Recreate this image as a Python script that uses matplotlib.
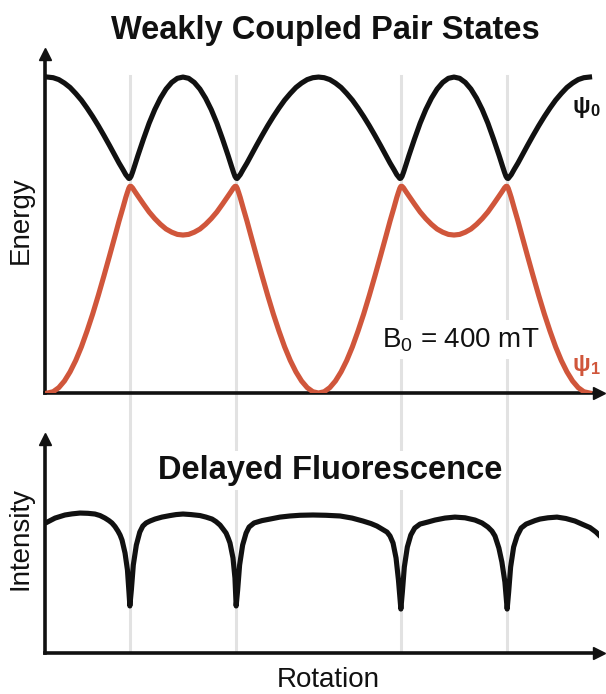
import matplotlib
matplotlib.use("Agg")
import matplotlib.pyplot as plt

plt.rcParams['font.family'] = ['Liberation Sans', 'DejaVu Sans']
plt.rcParams['mathtext.fontset'] = 'custom'
plt.rcParams['mathtext.rm'] = 'Liberation Sans'
plt.rcParams['mathtext.bf'] = 'Liberation Sans:bold'
plt.rcParams['mathtext.it'] = 'Liberation Sans:italic'

# rotation angle (deg) for the pair-state energies
angle = [0, 3.75, 7.5, 11.25, 15, 18.75, 22.5, 26.25, 30, 33.75, 37.5, 41.25,
         45, 47.5, 50, 52, 53, 54, 54.7, 55.5, 56.5, 58, 60, 63.75, 67.5,
         71.25, 75, 78.75, 82.5, 86.25, 90,
         93.75, 97.5, 101.25, 105, 108.75, 112.5, 116.25, 120, 122, 123.5,
         124.5, 125.3, 126, 127, 128, 130, 132.5, 135, 138.75, 142.5, 146.25,
         150, 153.75, 157.5, 161.25, 165, 168.75, 172.5, 176.25, 180,
         183.75, 187.5, 191.25, 195, 198.75, 202.5, 206.25, 210, 213.75, 217.5,
         221.25, 225, 227.5, 230, 232, 233, 234, 234.7, 235.5, 236.5, 238, 240,
         243.75, 247.5, 251.25, 255, 258.75, 262.5, 266.25, 270,
         273.75, 277.5, 281.25, 285, 288.75, 292.5, 296.25, 300, 302, 303.5,
         304.5, 305.3, 306, 307, 308, 310, 312.5, 315, 318.75, 322.5, 326.25,
         330, 333.75, 337.5, 341.25, 345, 348.75, 352.5, 356.25, 360]
psi0 = [1.0, 0.998, 0.992, 0.981, 0.967, 0.948, 0.927, 0.902, 0.875, 0.846,
        0.815, 0.783, 0.75, 0.728, 0.708, 0.691, 0.685, 0.679, 0.680, 0.686,
        0.699, 0.721, 0.751, 0.804, 0.854, 0.897, 0.933, 0.962, 0.983, 0.996,
        1.0,
        0.996, 0.983, 0.962, 0.933, 0.897, 0.854, 0.804, 0.751, 0.721, 0.699,
        0.686, 0.680, 0.679, 0.685, 0.691, 0.708, 0.728, 0.75, 0.783, 0.815,
        0.846, 0.875, 0.902, 0.927, 0.948, 0.967, 0.981, 0.992, 0.998, 1.0,
        0.998, 0.992, 0.981, 0.967, 0.948, 0.927, 0.902, 0.875, 0.846, 0.815,
        0.783, 0.75, 0.728, 0.708, 0.691, 0.685, 0.679, 0.680, 0.686, 0.699,
        0.721, 0.751, 0.804, 0.854, 0.897, 0.933, 0.962, 0.983, 0.996, 1.0,
        0.996, 0.983, 0.962, 0.933, 0.897, 0.854, 0.804, 0.751, 0.721, 0.699,
        0.686, 0.680, 0.679, 0.685, 0.691, 0.708, 0.728, 0.75, 0.783, 0.815,
        0.846, 0.875, 0.902, 0.927, 0.948, 0.967, 0.981, 0.992, 0.998, 1.0]
psi1 = [0.0, 0.004, 0.017, 0.038, 0.067, 0.103, 0.146, 0.196, 0.25, 0.309,
        0.371, 0.435, 0.5, 0.544, 0.585, 0.619, 0.634, 0.648, 0.654, 0.654,
        0.649, 0.638, 0.624, 0.598, 0.573, 0.552, 0.534, 0.519, 0.509, 0.502,
        0.5,
        0.502, 0.509, 0.519, 0.534, 0.552, 0.573, 0.598, 0.624, 0.638, 0.649,
        0.654, 0.654, 0.648, 0.634, 0.619, 0.585, 0.544, 0.5, 0.435, 0.371,
        0.309, 0.25, 0.196, 0.146, 0.103, 0.067, 0.038, 0.017, 0.004, 0.0,
        0.004, 0.017, 0.038, 0.067, 0.103, 0.146, 0.196, 0.25, 0.309, 0.371,
        0.435, 0.5, 0.544, 0.585, 0.619, 0.634, 0.648, 0.654, 0.654, 0.649,
        0.638, 0.624, 0.598, 0.573, 0.552, 0.534, 0.519, 0.509, 0.502, 0.5,
        0.502, 0.509, 0.519, 0.534, 0.552, 0.573, 0.598, 0.624, 0.638, 0.649,
        0.654, 0.654, 0.648, 0.634, 0.619, 0.585, 0.544, 0.5, 0.435, 0.371,
        0.309, 0.25, 0.196, 0.146, 0.103, 0.067, 0.038, 0.017, 0.004, 0.0]

# level (anti)crossings
crossings = [54.7, 125.3, 234.7, 305.3]

# delayed fluorescence intensity
df_angle = [0, 5.0, 8.3, 11.6, 16.3, 21.6, 26.9, 31.5, 34.9, 38.2, 40.8, 42.8,
            44.8, 46.8, 48.2, 49.5, 51.5, 53.1, 54.1, 54.7,
            55.7, 57.0, 59.0, 61.3, 63.3, 65.5, 68.1, 71.4, 76.0, 81.4, 85.4,
            90.0, 95.3, 101.3, 105.3, 109.3, 111.9, 114.6, 116.6, 118.6, 120.0,
            121.2, 123.2, 124.5, 125.3,
            126.3, 127.6, 129.6, 131.9, 133.9, 137.2, 142.5, 147.8, 154.4,
            161.1, 167.7, 176.3, 184.9, 194.3, 202.3, 209.5, 214.8, 218.8,
            222.1, 225.5, 227.5, 229.5, 231.5, 233.1, 234.7,
            235.7, 237.0, 239.0, 241.3, 243.9, 247.4, 252.7, 257.4, 264.0,
            270.6, 277.3, 283.9, 288.6, 292.5, 295.2, 297.2, 299.8, 301.8,
            303.8, 305.3,
            306.3, 307.6, 309.6, 311.9, 314.6, 317.9, 323.8, 327.1, 332.4,
            338.4, 344.3, 350.3, 355.6, 360.3, 364.3, 367.6]
df_int = [0.936, 0.964, 0.975, 0.986, 0.994, 1.0, 0.998, 0.993, 0.982, 0.964,
          0.946, 0.929, 0.904, 0.871, 0.843, 0.807, 0.714, 0.593, 0.436, 0.336,
          0.450, 0.629, 0.771, 0.864, 0.907, 0.929, 0.943, 0.957, 0.971, 0.982,
          0.989, 0.993, 0.989, 0.982, 0.971, 0.957, 0.939, 0.914, 0.886, 0.857,
          0.821, 0.786, 0.679, 0.536, 0.336,
          0.450, 0.629, 0.771, 0.857, 0.900, 0.929, 0.946, 0.957, 0.971,
          0.979, 0.984, 0.986, 0.984, 0.979, 0.964, 0.943, 0.925, 0.907,
          0.886, 0.864, 0.836, 0.786, 0.679, 0.521, 0.314,
          0.436, 0.614, 0.757, 0.843, 0.893, 0.921, 0.936, 0.950, 0.964,
          0.971, 0.966, 0.950, 0.929, 0.900, 0.871, 0.836, 0.750, 0.650,
          0.507, 0.314,
          0.436, 0.614, 0.757, 0.836, 0.893, 0.921, 0.946, 0.957, 0.966,
          0.971, 0.961, 0.943, 0.918, 0.896, 0.864, 0.829]

BLACK = '#111111'
RED = '#d0563b'
GRAY = '#e2e2e2'

W, H = 606, 694
fig = plt.figure(figsize=(W / 100, H / 100), dpi=100)


def style_axes(ax):
    for s in ['top', 'right']:
        ax.spines[s].set_visible(False)
    for s in ['left', 'bottom']:
        ax.spines[s].set_linewidth(2.6)
        ax.spines[s].set_color(BLACK)
        ax.spines[s].set_capstyle('projecting')
    ax.set_xticks([])
    ax.set_yticks([])
    ax.set_facecolor('none')
    ax.plot(1, 0, '>', color=BLACK, ms=9, transform=ax.transAxes, clip_on=False)
    ax.plot(0, 1, '^', color=BLACK, ms=9, transform=ax.transAxes, clip_on=False)


# top panel: pair state energies
ax1 = fig.add_axes([45 / W, 1 - 393 / H, 554 / W, 339 / H])
style_axes(ax1)
ax1.plot(angle, psi0, color=BLACK, lw=3.7, zorder=3)
ax1.plot(angle, psi1, color=RED, lw=3.7, zorder=3)
for c in crossings:
    ax1.axvline(c, ymin=-0.136, ymax=0.935, color=GRAY, lw=2.2, zorder=1,
                clip_on=False)
ax1.set_xlim(-1.66, 366.3)
ax1.set_ylim(0, 1.073)

ax1.text(382 / W, 1 - 347 / H, r'B$_0$ = 400 mT', transform=fig.transFigure,
         fontsize=20, ha='left', va='baseline', color=BLACK, zorder=2.5,
         bbox=dict(boxstyle='square,pad=0.2', fc='white', ec='none'))
ax1.text(586 / W, 1 - 108 / H, r'$\mathbf{ψ_0}$', transform=fig.transFigure,
         fontsize=17, ha='center', va='center', color=BLACK, zorder=4)
ax1.text(586 / W, 1 - 365 / H, r'$\mathbf{ψ_1}$', transform=fig.transFigure,
         fontsize=17, ha='center', va='center', color=RED, zorder=4)

# bottom panel: delayed fluorescence
ax2 = fig.add_axes([45 / W, 1 - 653 / H, 554 / W, 214 / H])
style_axes(ax2)
ax2.plot(df_angle, df_int, color=BLACK, lw=3.7, zorder=3)
for c in crossings:
    ax2.axvline(c, ymin=0.014, ymax=1, color=GRAY, lw=2.2, zorder=1,
                clip_on=False)
ax2.set_xlim(-1.66, 366.3)
ax2.set_ylim(0, 1.529)
ax2.text(330 / W, 1 - 479 / H, 'Delayed Fluorescence', transform=fig.transFigure,
         fontsize=23.5, fontweight='bold', ha='center', va='baseline',
         color=BLACK, zorder=2.5,
         bbox=dict(boxstyle='square,pad=0.12', fc='white', ec='none'))

fig.text(325 / W, 1 - 39 / H, 'Weakly Coupled Pair States', fontsize=23.5,
         fontweight='bold', ha='center', va='baseline', color=BLACK)
fig.text(21 / W, 1 - 220 / H, 'Energy', fontsize=20, rotation=90,
         ha='center', va='center', color=BLACK)
fig.text(21 / W, 1 - 538 / H, 'Intensity', fontsize=20, rotation=90,
         ha='center', va='center', color=BLACK)
fig.text(328 / W, 1 - 687 / H, 'Rotation', fontsize=20, ha='center',
         va='baseline', color=BLACK)

fig.savefig('out.png', dpi=100)
